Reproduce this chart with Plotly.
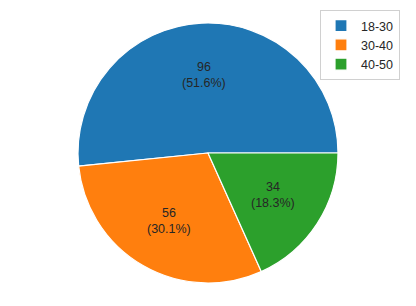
import math
import plotly.graph_objects as go

labels = ["18-30", "30-40", "40-50"]
values = [96, 56, 34]
colors = ["#1f77b4", "#ff7f0e", "#2ca02c"]

total = sum(values)
# first slice starts at 3 o'clock and runs counterclockwise (matplotlib default)
rotation = 90 - 360 * values[0] / total

fig = go.Figure(go.Pie(
    labels=labels, values=values, sort=False,
    direction="counterclockwise", rotation=rotation,
    marker=dict(colors=colors, line=dict(color="white", width=1.2)),
    textinfo="none",
    hoverinfo="skip",
))

# labels at 0.6 radius along each slice's middle angle
annotations = []
start = 0.0
for v in values:
    frac = v / total
    mid = math.radians((start + frac / 2) * 360)
    annotations.append(dict(
        x=0.5 + 0.3 * math.cos(mid), y=0.5 + 0.3 * math.sin(mid),
        xref="paper", yref="paper", showarrow=False,
        text=f"{v}<br>({frac * 100:.1f}%)",
        font=dict(family="Liberation Sans, Arial", size=12.5, color="#262626"),
        xanchor="center", yanchor="middle",
    ))
    start += frac

W, H = 408, 298
fig.update_layout(
    width=W, height=H,
    margin=dict(l=70, r=78, t=15, b=23, autoexpand=False),
    paper_bgcolor="white", plot_bgcolor="white",
    font=dict(family="Liberation Sans, Arial", size=12.5, color="#262626"),
    annotations=annotations,
    legend=dict(xref="container", yref="container", x=312 / W, y=1 - 2 / H,
                xanchor="left", yanchor="top", tracegroupgap=0,
                bordercolor="#d0d0d0", borderwidth=1, bgcolor="white",
                font=dict(size=12.5)),
)
fig.write_html("out.html")
